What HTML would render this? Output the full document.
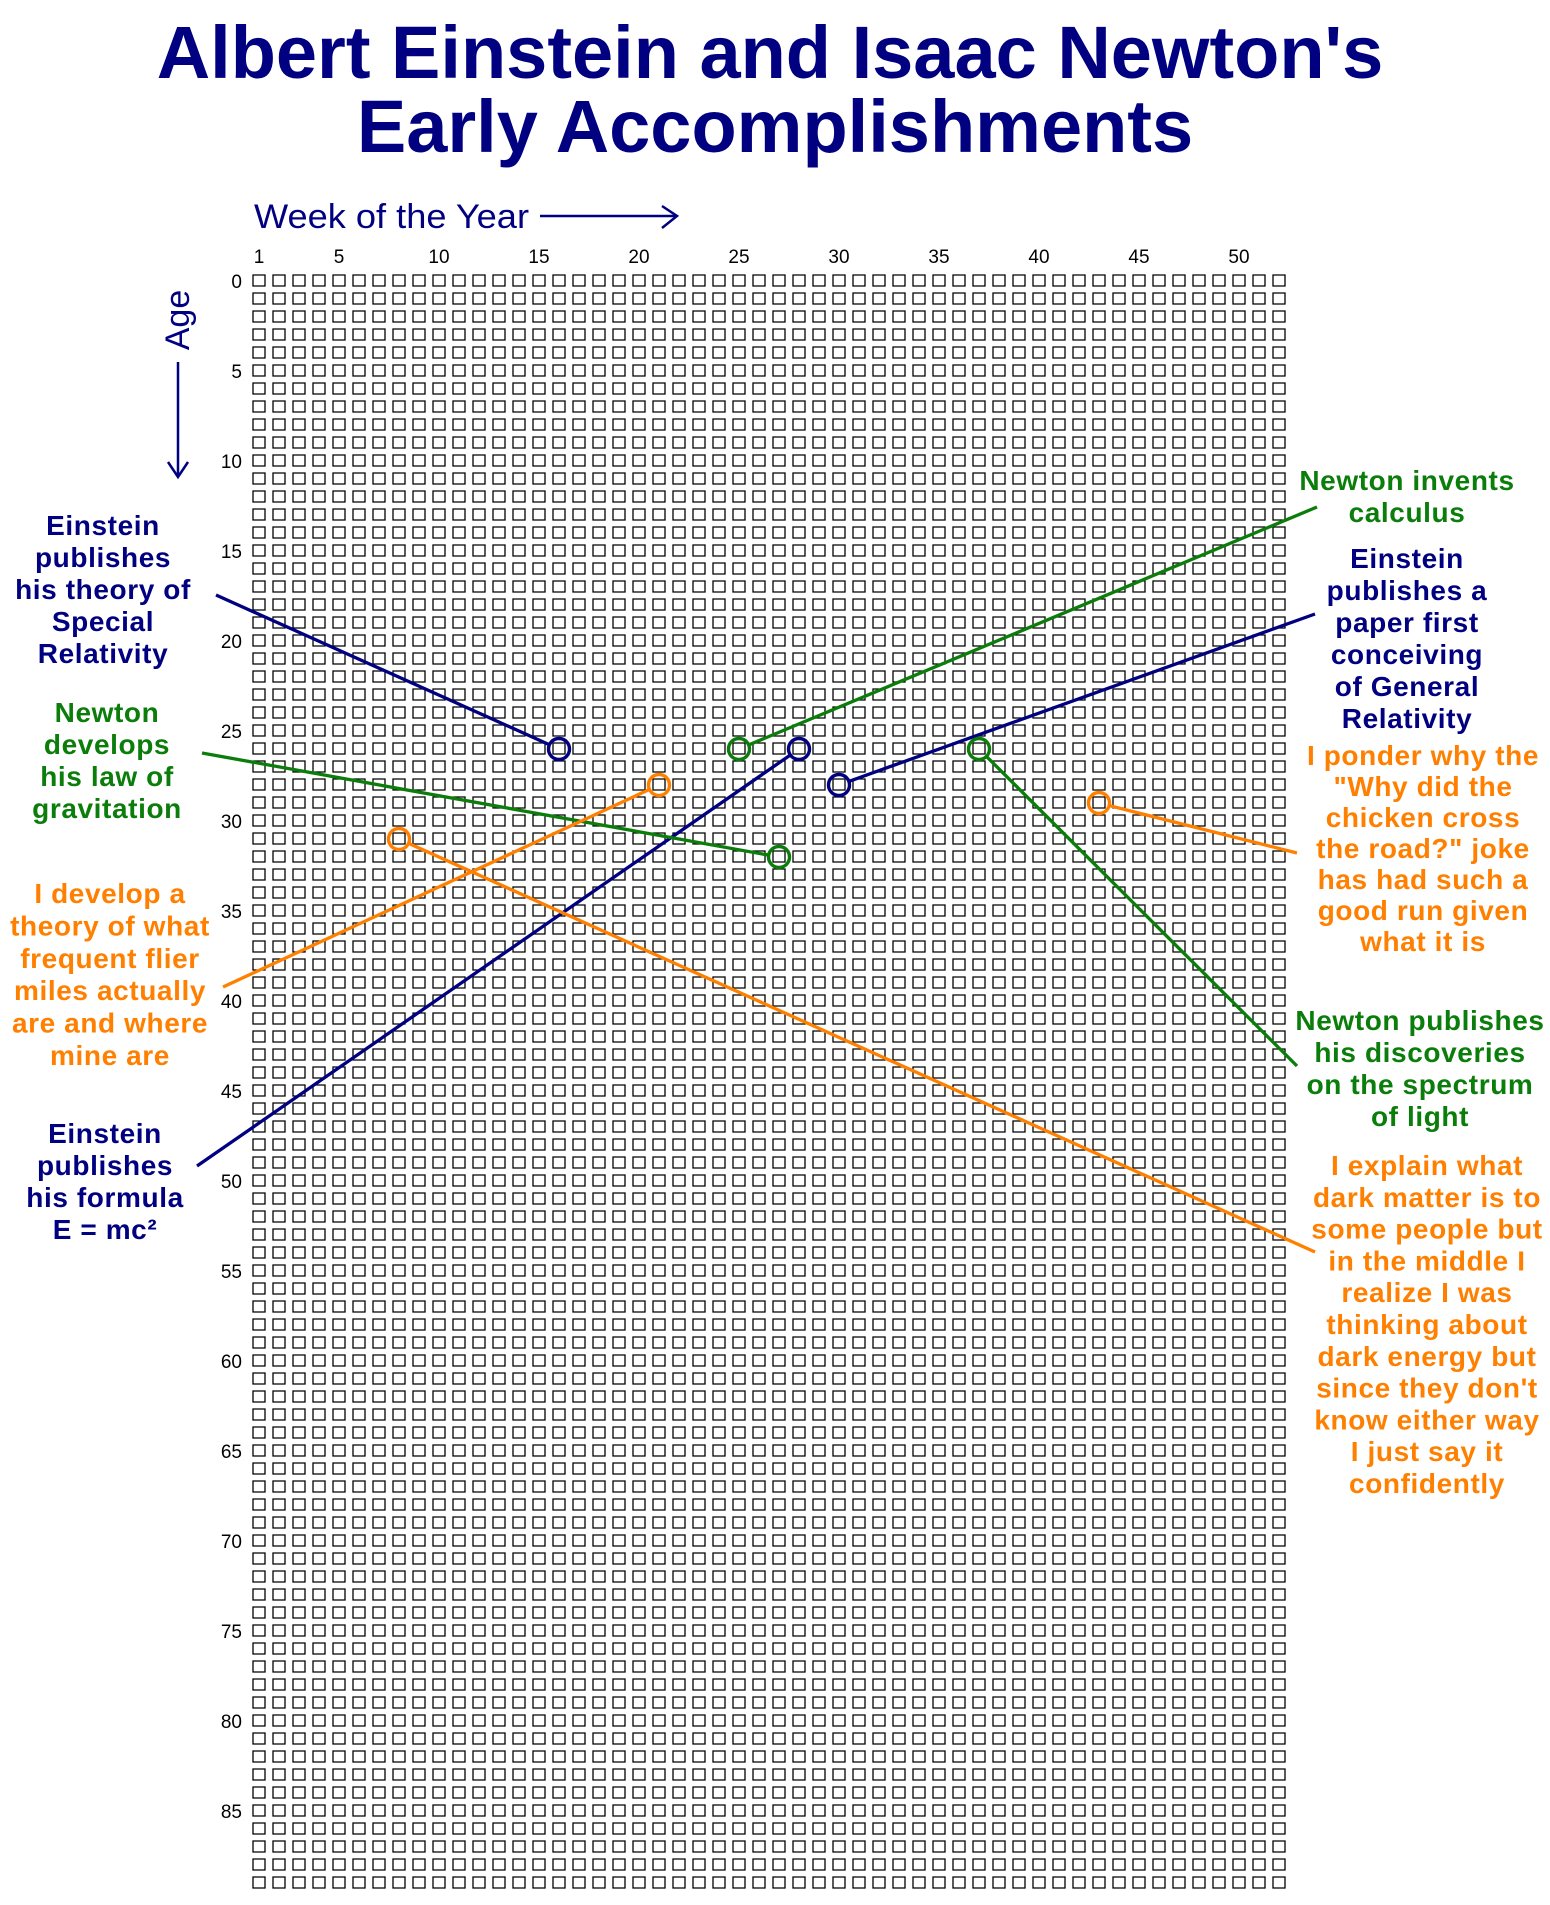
<!DOCTYPE html>
<html><head><meta charset="utf-8">
<style>
html,body{margin:0;padding:0;background:#fff;}
svg{display:block;}
text{font-family:"Liberation Sans",Arial,sans-serif;}
.lbl{font-weight:bold;font-size:28px;text-anchor:middle;letter-spacing:0.6px;}
.tick{font-weight:normal;font-size:19px;}
</style></head>
<body>
<svg id="chart" width="1550" height="1905" viewBox="0 0 1550 1905">
<g fill="#000080" font-weight="bold" font-size="74" text-anchor="middle">
<text x="770" y="78">Albert Einstein and Isaac Newton's</text>
<text x="775" y="152">Early Accomplishments</text>
</g>
<g>
<text x="254" y="228" font-size="34" fill="#000080" textLength="275" lengthAdjust="spacingAndGlyphs">Week of the Year</text>
<line x1="540" y1="216" x2="676" y2="216" stroke="#000080" stroke-width="2.5"/>
<polyline points="662,206 677,216 662,228" fill="none" stroke="#000080" stroke-width="2.5"/>
</g>
<g>
<text transform="translate(189,320) rotate(-90)" font-size="34" fill="#000080" text-anchor="middle">Age</text>
<line x1="178" y1="362" x2="178" y2="475" stroke="#000080" stroke-width="2.5"/>
<polyline points="168,462 178,477 188,462" fill="none" stroke="#000080" stroke-width="2.5"/>
</g>
<g id="grid"></g>
<g id="xticks"></g>
<g id="yticks"></g>
<g id="marks"></g>
<g id="labels"></g>
</svg>
<script>
const weekTicks = [1,5,10,15,20,25,30,35,40,45,50];
const ageTicks = [0,5,10,15,20,25,30,35,40,45,50,55,60,65,70,75,80,85];
const numWeeks = 52;
const numAges = 90;
const eventNames = ["einstein-special-relativity","einstein-emc2","einstein-general-relativity","newton-calculus","newton-gravitation","newton-light","me-frequent-flier","me-chicken-joke","me-dark-matter"];
const eventWeeks = [16,28,30,25,27,37,21,43,8];
const eventAges = [26,26,28,26,32,26,28,29,31];
const eventPeople = ["einstein","einstein","einstein","newton","newton","newton","me","me","me"];
const eventTexts = [
 ["Einstein","publishes","his theory of","Special","Relativity"],
 ["Einstein","publishes","his formula","E = mc\u00B2"],
 ["Einstein","publishes a","paper first","conceiving","of General","Relativity"],
 ["Newton invents","calculus"],
 ["Newton","develops","his law of","gravitation"],
 ["Newton publishes","his discoveries","on the spectrum","of light"],
 ["I develop a","theory of what","frequent flier","miles actually","are and where","mine are"],
 ["I ponder why the","\"Why did the","chicken cross","the road?\" joke","has had such a","good run given","what it is"],
 ["I explain what","dark matter is to","some people but","in the middle I","realize I was","thinking about","dark energy but","since they don't","know either way","I just say it","confidently"]
];

const NS="http://www.w3.org/2000/svg";
const colors={einstein:"#000080",newton:"#0b7d0b",me:"#ff8000"};
const X0=253, DX=20, Y0=275, DY=18, SQ=12;
function xCell(w){return X0+(w-1)*DX;}
function yCell(a){return Y0+a*DY;}
function xC(w){return xCell(w)+SQ/2;}
function yC(a){return yCell(a)+SQ/2;}
const labelLayout=[
 {x:103,y:535,ax:216,ay:595},
 {x:105,y:1143,ax:197,ay:1166},
 {x:1407,y:568,ax:1315,ay:614},
 {x:1407,y:490,ax:1317,ay:507},
 {x:107,y:722,ax:202,ay:753},
 {x:1420,y:1030,ax:1297,ay:1066},
 {x:110,y:903,ax:223,ay:987},
 {x:1423,y:765,ax:1297,ay:853},
 {x:1427,y:1175,ax:1315,ay:1252}
];
const lh=[32,32,32,32,32,32,32.4,31,31.8];

const grid=document.getElementById('grid');
let d="";
for(let a=0;a<numAges;a++){for(let w=1;w<=numWeeks;w++){d+="M"+xCell(w)+" "+yCell(a)+"h"+SQ+"v"+(SQ-1)+"h-"+SQ+"z";}}
const gp=document.createElementNS(NS,'path');
gp.setAttribute('d',d);gp.setAttribute('fill','none');gp.setAttribute('stroke','#000');gp.setAttribute('stroke-width','1.3');


grid.appendChild(gp);

const xt=document.getElementById('xticks');
weekTicks.forEach(w=>{const t=document.createElementNS(NS,'text');
t.setAttribute('x',xC(w));t.setAttribute('y',263);t.setAttribute('class','tick');t.setAttribute('text-anchor','middle');t.textContent=w;


xt.appendChild(t);});
const yt=document.getElementById('yticks');
ageTicks.forEach(a=>{const t=document.createElementNS(NS,'text');
t.setAttribute('x',242);t.setAttribute('y',yCell(a)+13);t.setAttribute('class','tick');t.setAttribute('text-anchor','end');t.textContent=a;


yt.appendChild(t);});

const marks=document.getElementById('marks'),labels=document.getElementById('labels');
eventNames.forEach((n,i)=>{
 const c=colors[eventPeople[i]],L=labelLayout[i];
 const cx=xC(eventWeeks[i]),cy=yC(eventAges[i]),r=10.5;
 const dx=L.ax-cx,dy=L.ay-cy,len=Math.hypot(dx,dy);
 const ln=document.createElementNS(NS,'line');
 ln.setAttribute('x1',cx+dx/len*r);ln.setAttribute('y1',cy+dy/len*r);ln.setAttribute('x2',L.ax);ln.setAttribute('y2',L.ay);
 ln.setAttribute('stroke',c);ln.setAttribute('stroke-width','3.3');
 
 
 marks.appendChild(ln);
 const ci=document.createElementNS(NS,'circle');
 ci.setAttribute('cx',cx);ci.setAttribute('cy',cy);ci.setAttribute('r',r);ci.setAttribute('fill','none');ci.setAttribute('stroke',c);ci.setAttribute('stroke-width','3.4');
 
 
 marks.appendChild(ci);
 const t=document.createElementNS(NS,'text');
 t.setAttribute('class','lbl');t.setAttribute('fill',c);
 
 
 eventTexts[i].forEach((line,k)=>{const s=document.createElementNS(NS,'tspan');
  s.setAttribute('x',L.x);s.setAttribute('y',L.y+k*lh[i]);s.textContent=line;t.appendChild(s);});
 labels.appendChild(t);
});
</script>
</body></html>
